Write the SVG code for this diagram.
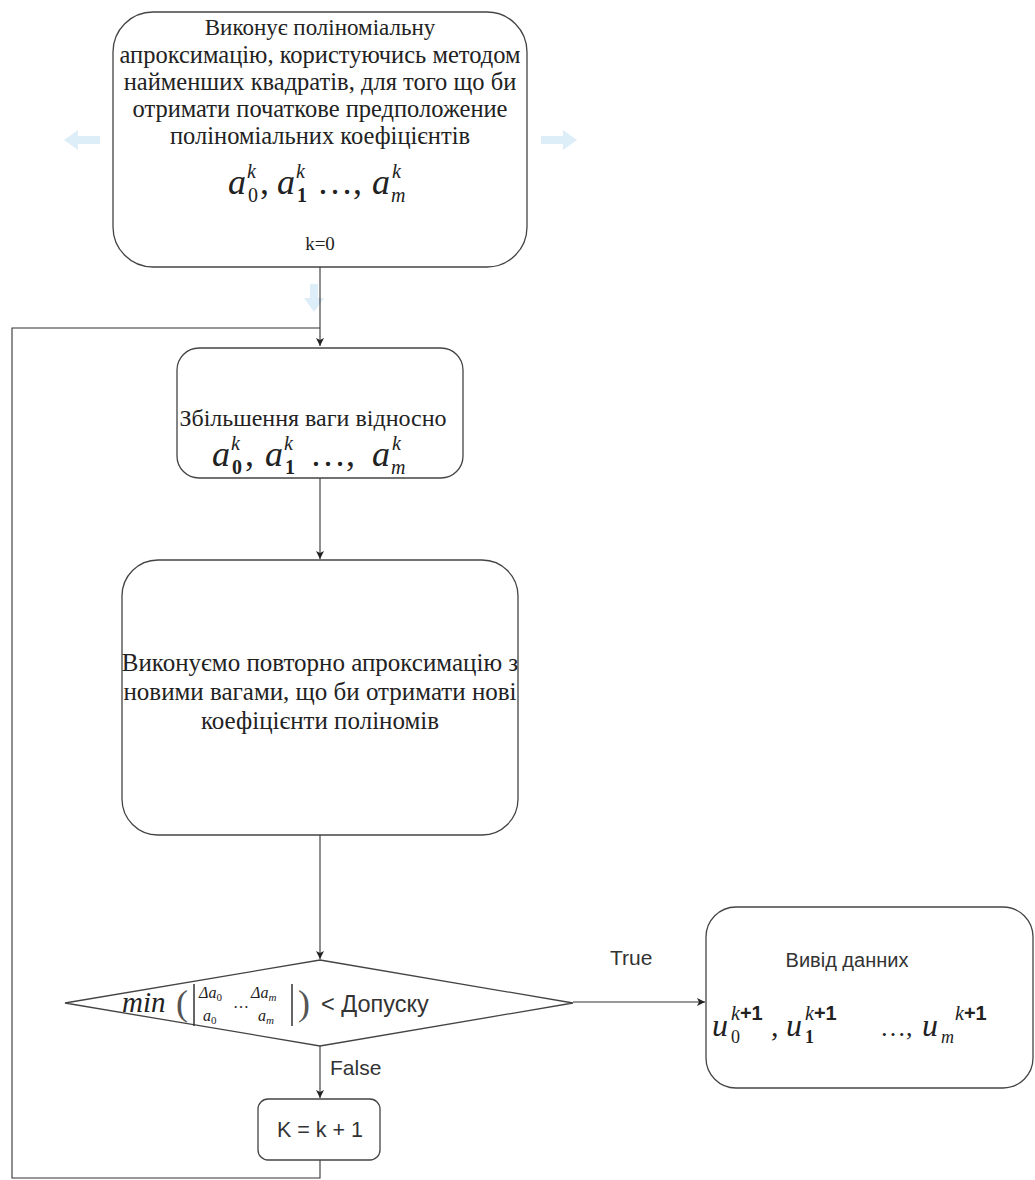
<svg xmlns="http://www.w3.org/2000/svg" width="1035" height="1180" viewBox="0 0 1035 1180">
<style>
.box{fill:#fff;stroke:#444;stroke-width:1.3}
.conn{fill:none;stroke:#333;stroke-width:1.1}
.ser{font-family:"Liberation Serif","Times New Roman",serif;font-size:24.5px;fill:#222;text-anchor:middle}
.sans{font-family:"Liberation Sans",Arial,sans-serif;font-size:20px;fill:#333}
.m{font-family:"Liberation Serif","Times New Roman",serif;font-style:italic;fill:#222}
.m .n{font-style:normal}
.m .b{font-style:normal;font-weight:bold}
.ma{font-size:36px}
.ms{font-size:20px}
.ghost{fill:#ddeef9}
</style>
<defs>
<marker id="arr" markerWidth="9" markerHeight="9" refX="8" refY="4" orient="auto" markerUnits="userSpaceOnUse">
<path d="M0,0 L8,4 L0,8 L2,4 z" fill="#222"/>
</marker>
</defs>

<g id="ghosts">
<path class="ghost" d="M64,140 L78,130 L78,136 L100,136 L100,144 L78,144 L78,150 z"/>
<path class="ghost" d="M577,140 L563,130 L563,136 L541,136 L541,144 L563,144 L563,150 z"/>
<path class="ghost" d="M314,312 L304,298 L310,298 L310,284 L318,284 L318,298 L324,298 z"/>
</g>

<g id="connectors">
<line class="conn" x1="320" y1="267" x2="320" y2="346" marker-end="url(#arr)"/>
<polyline class="conn" points="320,1160 320,1178 12,1178 12,328 320,328"/>
<line class="conn" x1="320" y1="478" x2="320" y2="559" marker-end="url(#arr)"/>
<line class="conn" x1="320" y1="835" x2="320" y2="959" marker-end="url(#arr)"/>
<line class="conn" x1="573" y1="1002" x2="705" y2="1002" marker-end="url(#arr)"/>
<line class="conn" x1="320" y1="1046" x2="320" y2="1098" marker-end="url(#arr)"/>
<text class="sans" x="610" y="965" style="font-size:21px">True</text>
<text class="sans" x="330" y="1075" style="font-size:21px">False</text>
</g>

<g id="start">
<rect class="box" x="113" y="12" width="414" height="255" rx="40"/>
<text class="ser" x="320" y="35" style="font-size:23px">Виконує поліноміальну</text>
<text class="ser" x="320" y="63">апроксимацію, користуючись методом</text>
<text class="ser" x="320" y="90">найменших квадратів, для того що би</text>
<text class="ser" x="320" y="117">отримати початкове предположение</text>
<text class="ser" x="320" y="144">поліноміальних коефіцієнтів</text>
<g class="m">
<text class="ma" x="228" y="194">a</text><text class="ms" x="247" y="178">k</text><text class="ms n" x="248" y="202">0</text><text class="ma n" x="260" y="194">,</text>
<text class="ma" x="277" y="194">a</text><text class="ms" x="296" y="178">k</text><text class="ms b" x="297" y="202">1</text>
<text class="ma n" x="317" y="194">…,</text>
<text class="ma" x="372" y="194">a</text><text class="ms" x="392" y="178">k</text><text class="ms" x="391" y="202">m</text>
</g>
<text class="ser" x="320" y="250" style="font-size:19px">k=0</text>
</g>

<g id="weights">
<rect class="box" x="177" y="348" width="286" height="130" rx="22"/>
<text class="ser" x="313" y="426" style="font-size:24px">Збільшення ваги відносно</text>
<g class="m">
<text class="ma" x="212" y="466">a</text><text class="ms" x="231" y="450">k</text><text class="ms b" x="232" y="474">0</text><text class="ma n" x="245" y="466">,</text>
<text class="ma" x="265" y="466">a</text><text class="ms" x="284" y="450">k</text><text class="ms b" x="285" y="474">1</text>
<text class="ma n" x="310" y="466">…,</text>
<text class="ma" x="372" y="466">a</text><text class="ms" x="392" y="450">k</text><text class="ms" x="391" y="474">m</text>
</g>
</g>

<g id="reapprox">
<rect class="box" x="122" y="560" width="396" height="275" rx="36"/>
<text class="ser" x="320" y="671" style="font-size:25px">Виконуємо повторно апроксимацію з</text>
<text class="ser" x="320" y="700" style="font-size:25px">новими вагами, що би отримати нові</text>
<text class="ser" x="320" y="729" style="font-size:25px">коефіцієнти поліномів</text>
</g>

<g id="decision">
<polygon class="box" points="320,960 573,1003 320,1046 65,1003"/>
<g class="m">
<text x="122" y="1012" style="font-size:29px">min</text>
<text class="n" x="176" y="1015" style="font-size:36px;fill:#555">(</text>
<text x="199" y="998" style="font-size:16px">Δa<tspan class="n" style="font-size:11px" dy="3">0</tspan></text>
<text x="203" y="1021" style="font-size:16px">a<tspan class="n" style="font-size:11px" dy="3">0</tspan></text>
<text class="n" x="233" y="1008" style="font-size:16px">…</text>
<text x="251" y="998" style="font-size:16px">Δa<tspan style="font-size:11px" dy="3">m</tspan></text>
<text x="258" y="1021" style="font-size:16px">a<tspan style="font-size:11px" dy="3">m</tspan></text>
<text class="n" x="298" y="1015" style="font-size:36px;fill:#555">)</text>
</g>
<line x1="194" y1="984" x2="194" y2="1026" stroke="#333" stroke-width="1.5"/>
<line x1="292" y1="984" x2="292" y2="1026" stroke="#333" stroke-width="1.5"/>
<text class="sans" x="321" y="1012" style="font-size:23.5px">&lt; Допуску</text>
</g>

<g id="output">
<rect class="box" x="706" y="907" width="327" height="181" rx="30"/>
<text class="sans" x="847" y="967" text-anchor="middle">Вивід данних</text>
<g class="m">
<text x="712" y="1036" style="font-size:32px">u</text><text class="n" x="731" y="1043" style="font-size:18px">0</text><text x="731" y="1020" style="font-size:20px">k<tspan class="b" style="font-family:'Liberation Sans',Arial,sans-serif">+1</tspan></text>
<text class="n" x="771" y="1036" style="font-size:30px">,</text>
<text x="786" y="1036" style="font-size:32px">u</text><text class="b" x="805" y="1043" style="font-size:18px">1</text><text x="805" y="1020" style="font-size:20px">k<tspan class="b" style="font-family:'Liberation Sans',Arial,sans-serif">+1</tspan></text>
<text class="n" x="880" y="1036" style="font-size:26px">…,</text>
<text x="922" y="1036" style="font-size:32px">u</text><text x="941" y="1043" style="font-size:18px">m</text><text x="955" y="1020" style="font-size:20px">k<tspan class="b" style="font-family:'Liberation Sans',Arial,sans-serif">+1</tspan></text>
</g>
</g>

<g id="increment">
<rect class="box" x="258" y="1099" width="122" height="61" rx="10"/>
<text class="sans" x="320" y="1137" text-anchor="middle" style="font-size:21.5px">K = k + 1</text>
</g>
</svg>
